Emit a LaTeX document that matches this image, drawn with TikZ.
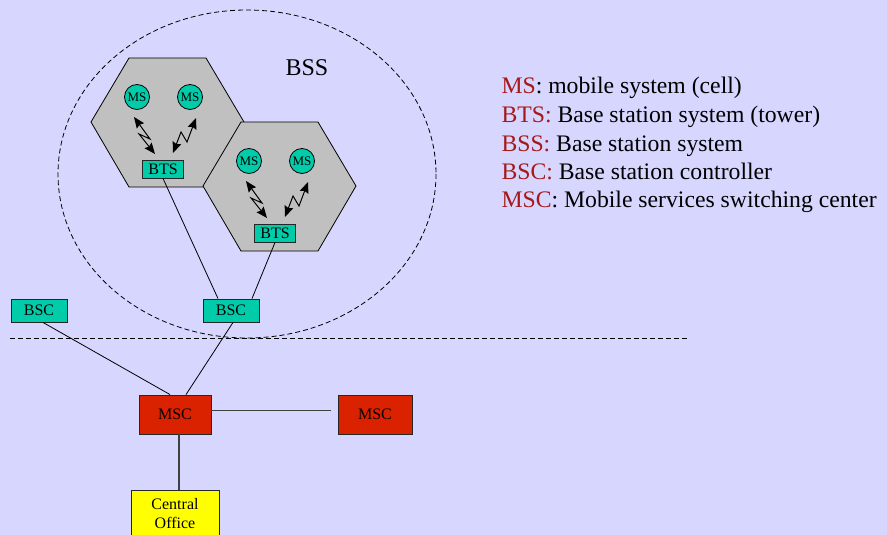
\documentclass[tikz,border=0pt]{standalone}
\usepackage{fontspec}
\setmainfont{Liberation Serif}
\usetikzlibrary{arrows.meta}

\definecolor{slide}{RGB}{214,214,255}
\definecolor{cellgray}{RGB}{192,192,192}
\definecolor{stationgreen}{RGB}{0,204,170}
\definecolor{mscred}{RGB}{218,34,0}
\definecolor{officeyellow}{RGB}{255,255,0}
\definecolor{keyred}{RGB}{165,25,25}

\tikzset{
  hexcell/.style={draw=black, fill=cellgray, line width=0.8pt, line join=miter},
  msnode/.style={circle, draw=black, fill=stationgreen, line width=0.8pt,
    minimum size=25pt, inner sep=0pt, font=\fontsize{13}{13}\selectfont},
  boxnode/.style={rectangle, draw=black!85, line width=0.9pt, inner sep=0pt,
    font=\fontsize{16}{16}\selectfont},
  btsnode/.style={boxnode, fill=stationgreen, minimum width=41pt, minimum height=18pt},
  bscnode/.style={boxnode, fill=stationgreen, minimum width=56pt, minimum height=23pt},
  mscnode/.style={boxnode, fill=mscred, minimum width=72pt, minimum height=39pt},
  officenode/.style={boxnode, fill=officeyellow, minimum width=88pt, minimum height=46pt,
    align=center, font=\fontsize{16}{19}\selectfont},
  radio/.style={line width=1pt, line join=miter,
    {Stealth[length=11pt,width=9pt,inset=1.5pt]}-{Stealth[length=11pt,width=9pt,inset=1.5pt]}},
  wire/.style={line width=0.8pt, draw=black},
  trunk/.style={line width=1.1pt, draw=black!75},
  boundary/.style={line width=0.8pt, dash pattern=on 5pt off 3pt},
  keyline/.style={anchor=base west, font=\fontsize{23.7}{24}\selectfont},
}

\begin{document}
\begin{tikzpicture}[x=1pt, y=-1pt]
  % page
  \clip (0,0) rectangle (887,535);
  \fill[slide] (0,0) rectangle (887,535);
  \useasboundingbox (0,0) rectangle (887,535);

  % BSS boundary
  \draw[boundary] (247,174) ellipse [x radius=189, y radius=164];
  \node[anchor=base west, font=\fontsize{24}{24}\selectfont] (bsslabel) at (282,76) {BSS};

  % first cell
  \draw[hexcell] (91,122) -- (129,58) -- (206,58) -- (244,122) -- (206,187) -- (129,187) -- cycle;
  \node[msnode] (ms1a) at (137,97) {MS};
  \node[msnode] (ms1b) at (190,97) {MS};
  \node[btsnode] (bts1) at (163,169) {BTS};
  \draw[radio] (134,117) -- (150,139) -- (139,134) -- (155,154);
  \draw[radio] (196,118) -- (187,142) -- (181,132) -- (173,153);

  % second cell
  \begin{scope}[shift={(112,64)}]
    \draw[hexcell] (91,122) -- (129,58) -- (206,58) -- (244,122) -- (206,187) -- (129,187) -- cycle;
    \node[msnode] (ms2a) at (137,97) {MS};
    \node[msnode] (ms2b) at (190,97) {MS};
    \node[btsnode] (bts2) at (163,169) {BTS};
    \draw[radio] (134,117) -- (150,139) -- (139,134) -- (155,154);
    \draw[radio] (196,118) -- (187,142) -- (181,132) -- (173,153);
  \end{scope}

  % controllers and switching centres
  \node[bscnode] (bscA) at (39,310.5) {BSC};
  \node[bscnode] (bscB) at (231,310.5) {BSC};
  \node[mscnode] (mscA) at (175,414.5) {MSC};
  \node[mscnode, minimum width=74pt] (mscB) at (375,414.5) {MSC};
  \node[officenode, anchor=north] (office) at (175,490) {Central\\Office};

  % network split
  \coordinate (splitL) at (10,338);
  \coordinate (splitR) at (688,338);
  \draw[boundary] (splitL) -- (splitR);

  % links
  \draw[wire] (bts1.south) -- ([xshift=-13pt]bscB.north);
  \draw[wire] (bts2.south) -- ([xshift=21pt]bscB.north);
  \draw[wire] ([xshift=4pt]bscA.south) -- ([xshift=-5pt]mscA.north);
  \draw[wire] ([xshift=2pt]bscB.south) -- ([xshift=11pt]mscA.north);
  \draw[trunk] ([yshift=4pt]mscA.east) -- ([xshift=-7pt,yshift=4pt]mscB.west);
  \draw[trunk] ([xshift=4pt]mscA.south) -- ([xshift=4pt]office.north);

  % legend
  \node[keyline] (key1) at (498,94)  {\textcolor{keyred}{MS}: mobile system (cell)};
  \node[keyline] (key2) at (498,122) {\textcolor{keyred}{BTS:} Base station system (tower)};
  \node[keyline] (key3) at (498,151) {\textcolor{keyred}{BSS:} Base station system};
  \node[keyline] (key4) at (498,179) {\textcolor{keyred}{BSC:} Base station controller};
  \node[keyline] (key5) at (498,207) {\textcolor{keyred}{MSC}: Mobile services switching center};
\end{tikzpicture}
\end{document}
